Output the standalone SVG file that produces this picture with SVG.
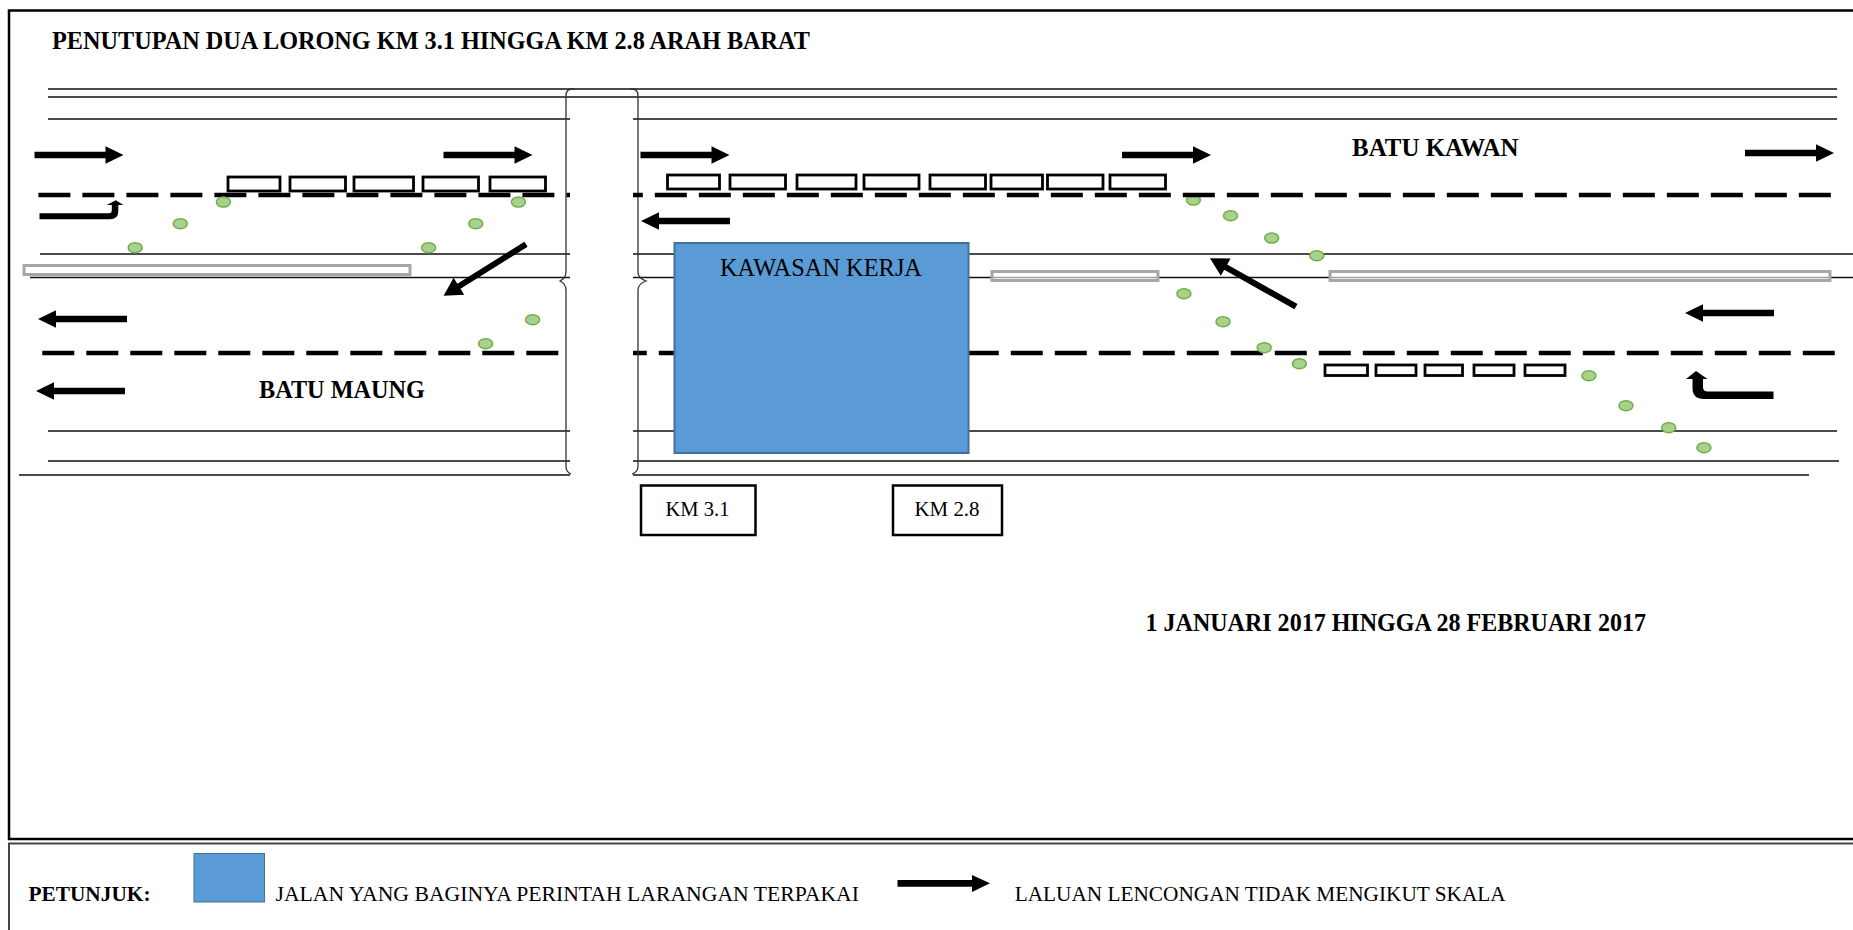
<svg xmlns="http://www.w3.org/2000/svg" width="1853" height="930" viewBox="0 0 1853 930">
<style>
text{font-family:"Liberation Serif","Times New Roman",serif;fill:#000}
.b{font-weight:bold;font-size:25.500px}
.n{font-size:21.500px}
.road{stroke:#111;stroke-width:1.5;fill:none}
.dash{stroke:#000;stroke-width:4.500;fill:none;stroke-dasharray:32 12}
.car{fill:#fff;stroke:#000;stroke-width:2.800}
.bar{fill:#fff;fill-opacity:.6;stroke:#a6a6a6;stroke-width:3}
.cone{fill:#a9d18e;stroke:#70ad47;stroke-width:1.5}
.blue{fill:#5b9bd5;stroke:#41719c;stroke-width:2}
.box{fill:#fff;stroke:#000;stroke-width:2.500}
.brace{fill:none;stroke:#333;stroke-width:1.300}
.arrow{fill:#000}
</style>
<defs>
<path id="ar" d="M0-3.200H71V-8.700L89 0 71 8.700V3.200H0Z"/>
<path id="al" d="M0-3.200H-71V-8.700L-89 0-71 8.700V3.200H0Z"/>
</defs>
<g id="frame" fill="none">
<rect x="9" y="10.500" width="1860" height="828.500" stroke="#000" stroke-width="2.500"/>
<rect x="9" y="843.500" width="1860" height="120" stroke="#444" stroke-width="2"/>
</g>
<g id="roads">
<path class="road" d="M48 89H1837M48 97H1837M48 119H570M633 119H1837M40 254H570M633 254H1853M30 277.500H570M633 277.500H1853M48 431H570M633 431H1837M48 461H570M633 461H1839M19 475H570M633 475H1809"/>
<path class="dash" d="M38.400 195H570"/>
<path class="dash" d="M42.300 353H559"/>
<path class="dash" d="M633 353H1835" stroke-dashoffset="18.200"/>
<path class="brace" d="M574 89H572Q566 89 566 96V272Q566 278 560 281Q566 284 566 290V466Q566 472 571 474"/>
<path class="brace" d="M630 89H632Q638 89 638 96V272Q638 278 646 281Q638 284 638 290V466Q638 472 632 474"/>
</g>
<g id="barriers">
<rect class="bar" x="24" y="265.500" width="386" height="9"/>
<rect class="bar" x="992" y="271.500" width="166" height="9"/>
<rect class="bar" x="1330" y="271.500" width="500" height="9"/>
</g>
<g id="cones">
<ellipse class="cone" cx="135.200" cy="247.700" rx="7" ry="5"/>
<ellipse class="cone" cx="180.300" cy="223.700" rx="7" ry="5"/>
<ellipse class="cone" cx="223.400" cy="202" rx="7" ry="5"/>
<ellipse class="cone" cx="428.600" cy="247.700" rx="7" ry="5"/>
<ellipse class="cone" cx="475.700" cy="223.700" rx="7" ry="5"/>
<ellipse class="cone" cx="518.400" cy="202" rx="7" ry="5"/>
<ellipse class="cone" cx="532.600" cy="319.700" rx="7" ry="5"/>
<ellipse class="cone" cx="485.600" cy="343.700" rx="7" ry="5"/>
<ellipse class="cone" cx="1193.400" cy="200" rx="7" ry="5"/>
<ellipse class="cone" cx="1230.500" cy="215.700" rx="7" ry="5"/>
<ellipse class="cone" cx="1183.900" cy="293.700" rx="7" ry="5"/>
<ellipse class="cone" cx="1223" cy="321.700" rx="7" ry="5"/>
<ellipse class="cone" cx="1271.700" cy="238" rx="7" ry="5"/>
<ellipse class="cone" cx="1316.800" cy="255.700" rx="7" ry="5"/>
<ellipse class="cone" cx="1264.200" cy="347.700" rx="7" ry="5"/>
<ellipse class="cone" cx="1299.400" cy="363.700" rx="7" ry="5"/>
<ellipse class="cone" cx="1588.900" cy="375.700" rx="7" ry="5"/>
<ellipse class="cone" cx="1626" cy="405.700" rx="7" ry="5"/>
<ellipse class="cone" cx="1668.700" cy="427.700" rx="7" ry="5"/>
<ellipse class="cone" cx="1703.900" cy="447.700" rx="7" ry="5"/>
</g>
<g id="dash-over">
<path class="dash" d="M633 195H1831" stroke-dashoffset="22.200"/>
</g>
<g id="cars">
<rect class="car" x="228" y="177" width="52" height="14"/>
<rect class="car" x="290" y="177" width="55.500" height="14"/>
<rect class="car" x="354" y="177" width="59.500" height="14"/>
<rect class="car" x="423" y="177" width="55.500" height="14"/>
<rect class="car" x="490" y="177" width="55.500" height="14"/>
<rect class="car" x="667.500" y="175" width="52" height="14"/>
<rect class="car" x="730" y="175" width="55.500" height="14"/>
<rect class="car" x="797" y="175" width="59" height="14"/>
<rect class="car" x="864" y="175" width="55" height="14"/>
<rect class="car" x="930" y="175" width="55.500" height="14"/>
<rect class="car" x="991" y="175" width="51.500" height="14"/>
<rect class="car" x="1047.500" y="175" width="55.500" height="14"/>
<rect class="car" x="1110" y="175" width="55.500" height="14"/>
<rect class="car" x="1325" y="365" width="42.500" height="10.500"/>
<rect class="car" x="1376" y="365" width="40" height="10.500"/>
<rect class="car" x="1425" y="365" width="37.500" height="10.500"/>
<rect class="car" x="1474" y="365" width="40" height="10.500"/>
<rect class="car" x="1525" y="365" width="40" height="10.500"/>
</g>
<g id="connectors">
<use class="arrow" href="#ar" x="34.500" y="155"/>
<use class="arrow" href="#ar" x="443.500" y="155"/>
<use class="arrow" href="#ar" x="640.500" y="155"/>
<use class="arrow" href="#ar" x="1122" y="155"/>
<use class="arrow" href="#ar" x="1745" y="153"/>
<use class="arrow" href="#al" x="127" y="319"/>
<use class="arrow" href="#al" x="125" y="391"/>
<use class="arrow" href="#al" x="730" y="221"/>
<use class="arrow" href="#al" x="1774" y="313"/>
<path class="arrow" d="M39.500 213.300H109Q111.800 213.300 111.800 210V205H106.700L115.800 200.300 123.400 205H118.300V211Q118.300 219.300 110 219.300H39.500Z"/>
<path class="arrow" d="M1773.500 391.500H1708Q1703 391.500 1703 387V379H1707.500L1696 371 1686 379H1692.500V388Q1692.500 399 1704 399H1773.500Z"/>
<path class="arrow" d="M524.400 241.800 527.600 246.800 460.500 288.700 464.200 294.700 443.600 295.700 453.600 277.700 457.300 283.700Z"/>
<path class="arrow" d="M1297.500 304.100 1294.500 309.300 1224.200 269.700 1220.800 275.800 1210 258.300 1230.600 258.400 1227.200 264.500Z"/>
</g>
<g id="kawasan-kerja">
<rect class="blue" x="674.500" y="243" width="294" height="210"/>
<text x="720" y="276" font-size="24.800" textLength="202" lengthAdjust="spacingAndGlyphs">KAWASAN KERJA</text>
</g>
<g id="km31">
<rect class="box" x="641" y="485.500" width="114.500" height="49.500"/>
<text x="665.500" y="516" font-size="21" textLength="64" lengthAdjust="spacingAndGlyphs">KM 3.1</text>
</g>
<g id="km28">
<rect class="box" x="893" y="485.500" width="109" height="49.500"/>
<text x="914.500" y="516" font-size="21" textLength="65" lengthAdjust="spacingAndGlyphs">KM 2.8</text>
</g>
<g id="labels">
<text class="b" x="52" y="49.300" textLength="758" lengthAdjust="spacingAndGlyphs">PENUTUPAN DUA LORONG KM 3.1 HINGGA KM 2.8 ARAH BARAT</text>
<text class="b" x="1352" y="156" textLength="166.500" lengthAdjust="spacingAndGlyphs">BATU KAWAN</text>
<text class="b" x="259" y="398" textLength="166" lengthAdjust="spacingAndGlyphs">BATU MAUNG</text>
<text class="b" x="1145.500" y="631" textLength="500.500" lengthAdjust="spacingAndGlyphs">1 JANUARI 2017 HINGGA 28 FEBRUARI 2017</text>
</g>
<g id="legend">
<text x="28.500" y="901" font-size="21.500" font-weight="bold" textLength="122" lengthAdjust="spacingAndGlyphs">PETUNJUK:</text>
<rect x="194" y="853.500" width="70.500" height="48.500" fill="#5b9bd5" stroke="#41719c" stroke-width="1"/>
<text x="275.500" y="901" class="n" textLength="583.500" lengthAdjust="spacingAndGlyphs">JALAN YANG BAGINYA PERINTAH LARANGAN TERPAKAI</text>
<path class="arrow" d="M897.500 880H972V875L990 883.300 972 892V886.700H897.500Z"/>
<text x="1014.700" y="901" class="n" textLength="491" lengthAdjust="spacingAndGlyphs">LALUAN LENCONGAN TIDAK MENGIKUT SKALA</text>
</g>
</svg>
